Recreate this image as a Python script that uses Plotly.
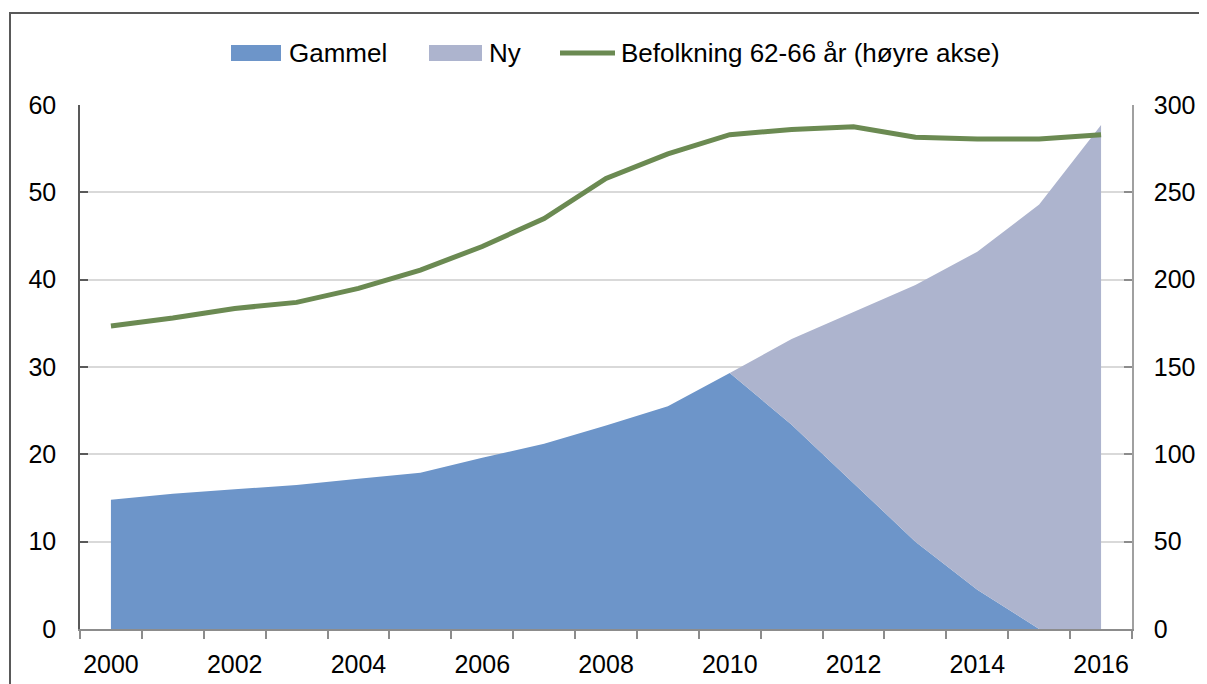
import plotly.graph_objects as go

years = list(range(2000, 2017))
gammel = [14.8, 15.5, 16.0, 16.5, 17.2, 17.9, 19.6, 21.2, 23.3, 25.5, 29.3,
          23.4, 16.7, 10.0, 4.5, 0.0, 0.0]
ny = [0, 0, 0, 0, 0, 0, 0, 0, 0, 0, 0.0,
      9.8, 19.6, 29.4, 38.7, 48.6, 57.7]
befolkning = [173.5, 178, 183.5, 187, 195, 205.5, 219, 235, 258, 272, 283,
              286, 287.5, 281.5, 280.5, 280.5, 283]
x_labels = [2000, 2002, 2004, 2006, 2008, 2010, 2012, 2014, 2016]
series_names = ["Gammel", "Ny", "Befolkning 62-66 år (høyre akse)"]
colors = ["#6D95C9", "#ADB4CE", "#6B8A52"]

FONT = "Liberation Sans, Arial, sans-serif"

# page geometry (the page body adds an 8px offset)
OFF = 8
PL, PR, PT, PB = 80, 1132, 105, 629          # plot area in page pixels
PW, PH = PR - PL, PB - PT


def px(x):
    return (x - PL) / PW


def py(y):
    return (PB - y) / PH


fig = go.Figure()
fig.add_trace(go.Scatter(x=years, y=gammel, name=series_names[0], mode="lines",
                         stackgroup="a", line=dict(width=0, color=colors[0]),
                         fillcolor=colors[0], showlegend=False))
fig.add_trace(go.Scatter(x=years, y=ny, name=series_names[1], mode="lines",
                         stackgroup="a", line=dict(width=0, color=colors[1]),
                         fillcolor=colors[1], showlegend=False))
fig.add_trace(go.Scatter(x=years, y=befolkning, name=series_names[2],
                         mode="lines", yaxis="y2", showlegend=False,
                         line=dict(width=5, color=colors[2])))

W, H = 1207 - OFF, 684 - OFF
fig.update_layout(
    width=W, height=H,
    margin=dict(l=PL - OFF, r=W - (PR - OFF), t=PT - OFF, b=H - (PB - OFF),
                autoexpand=False),
    paper_bgcolor="white", plot_bgcolor="white",
    font=dict(family=FONT, size=25, color="black"),
    showlegend=False,
    xaxis=dict(range=[1999.5, 2016.5], tickmode="array", tickvals=x_labels,
               ticktext=[str(v) for v in x_labels], ticks="", showgrid=False,
               showline=True, linecolor="#8c8c8c", linewidth=1.5,
               ticklabelstandoff=12, zeroline=False,
               minor=dict(tick0=1999.5, dtick=1, ticks="outside", ticklen=8,
                          tickcolor="#8c8c8c", tickwidth=1.5, showgrid=False)),
    yaxis=dict(range=[0, 60], dtick=10, showgrid=True, gridcolor="#d9d9d9",
               gridwidth=1.5, showline=True, linecolor="#595959", linewidth=1.5,
               ticks="inside", ticklen=8, tickcolor="#595959", tickwidth=1.5,
               ticklabelstandoff=17, zeroline=False),
    yaxis2=dict(range=[0, 300], dtick=50, overlaying="y", side="right",
                showgrid=False, showline=True, linecolor="#a0a0a0", linewidth=1.5,
                ticks="inside", ticklen=8, tickcolor="#8c8c8c", tickwidth=1.5,
                ticklabelstandoff=15, zeroline=False),
)

# outer chart frame (cut off at right and bottom as in the reference)
fig.add_shape(type="rect", xref="paper", yref="paper",
              x0=px(10), x1=px(1230), y0=py(720), y1=py(13),
              line=dict(color="#595959", width=2), fillcolor="rgba(0,0,0,0)",
              layer="below")

# custom legend (drawn in page pixel positions)
LY = 53
legend_items = [
    ("rect", 231, 281, 288, 0),
    ("rect", 429, 482, 488, 1),
    ("line", 560, 615, 620, 2),
]
for kind, a, b, tx, i in legend_items:
    if kind == "rect":
        fig.add_shape(type="rect", xref="paper", yref="paper",
                      x0=px(a), x1=px(b), y0=py(LY + 8), y1=py(LY - 8),
                      line=dict(width=0), fillcolor=colors[i])
    else:
        fig.add_shape(type="line", xref="paper", yref="paper",
                      x0=px(a), x1=px(b), y0=py(LY), y1=py(LY),
                      line=dict(width=5, color=colors[i]))
    fig.add_annotation(xref="paper", yref="paper", x=px(tx), y=py(LY),
                       xanchor="left", yanchor="middle", showarrow=False,
                       text=series_names[i], font=dict(size=26, color="black"),
                       xshift=-1)

fig.write_html("out.html")
